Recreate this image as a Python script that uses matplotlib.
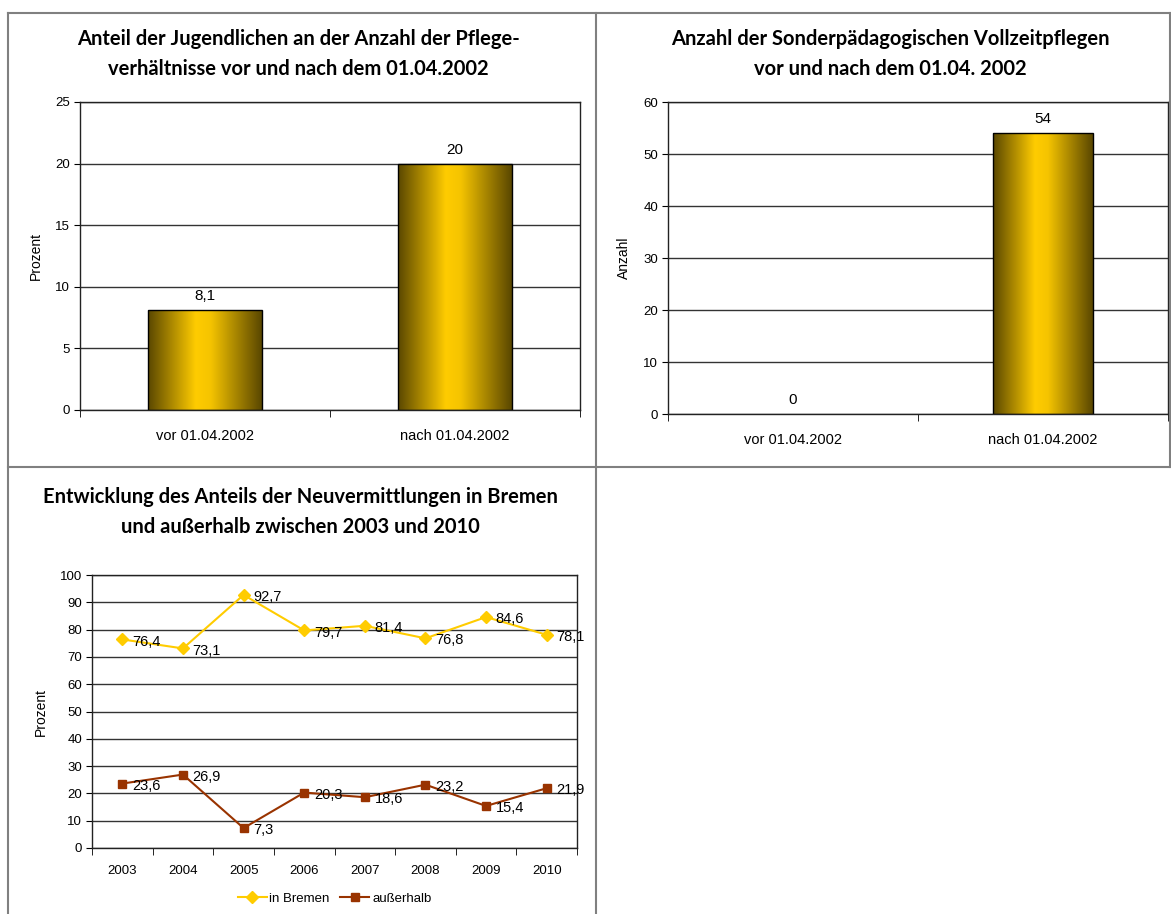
import matplotlib
matplotlib.use('Agg')
import matplotlib.pyplot as plt
import numpy as np
from matplotlib.colors import LinearSegmentedColormap
from matplotlib.lines import Line2D

# data
stichtag_cats = ['vor 01.04.2002', 'nach 01.04.2002']
jugendliche_anteil = [8.1, 20]
sonderpaed_anzahl = [0, 54]

jahre = ['2003', '2004', '2005', '2006', '2007', '2008', '2009', '2010']
in_bremen = [76.4, 73.1, 92.7, 79.7, 81.4, 76.8, 84.6, 78.1]
ausserhalb = [23.6, 26.9, 7.3, 20.3, 18.6, 23.2, 15.4, 21.9]

W, H = 1171, 914
plt.rcParams['font.family'] = ['Liberation Sans', 'DejaVu Sans']
fig = plt.figure(figsize=(W / 100, H / 100), dpi=100)

gold = LinearSegmentedColormap.from_list(
    'gold', [(0, '#5a4700'), (0.42, '#ffcc00'), (0.55, '#f5c400'), (1, '#5a4700')])


def px_axes(left, right, top, bottom):
    return fig.add_axes([left / W, 1 - bottom / H, (right - left) / W, (bottom - top) / H])


def de(v):
    return ('%g' % v).replace('.', ',')


def style_axes(ax):
    for s in ax.spines.values():
        s.set_color('#222222')
        s.set_linewidth(1)
    ax.set_axisbelow(True)
    ax.yaxis.grid(True, color='#333333', linewidth=1)
    ax.tick_params(axis='y', direction='out', length=4, labelsize=9.5, pad=3)
    ax.tick_params(axis='x', which='major', length=0, labelsize=10.5, pad=14)
    ax.tick_params(axis='x', which='minor', direction='out', length=5)


def gradient_bars(ax, bars):
    grad = np.linspace(0, 1, 256).reshape(1, -1)
    for b in bars:
        h = b.get_height()
        if h == 0:
            b.set_visible(False)
            continue
        x, w = b.get_x(), b.get_width()
        im = ax.imshow(grad, cmap=gold, aspect='auto', extent=[x, x + w, 0, h], zorder=1.5)
        im.set_clip_path(b)
        b.set_facecolor('none')
        b.set_zorder(1.6)


def title(x, y, txt):
    fig.text(x / W, 1 - y / H, txt, ha='center', va='center', fontsize=14.5,
             fontweight='bold', family=['Lato', 'DejaVu Sans'], linespacing=1.6)


def bar_chart(ax, values, ymax, ystep, width, ylabel):
    x = np.arange(len(values))
    bars = ax.bar(x, values, width=width, edgecolor='black', linewidth=1)
    gradient_bars(ax, bars)
    for xi, v in zip(x, values):
        ax.annotate(de(v), (xi, v), xytext=(0, 5), textcoords='offset points',
                    ha='center', va='bottom', fontsize=11)
    ax.set_xlim(-0.5, len(values) - 0.5)
    ax.set_ylim(0, ymax)
    ax.set_yticks(np.arange(0, ymax + 1, ystep))
    ax.set_xticks(x, stichtag_cats)
    ax.set_xticks(np.arange(-0.5, len(values)), minor=True)
    style_axes(ax)
    ax.set_ylabel(ylabel, fontsize=10, labelpad=9)


ax1 = px_axes(80, 580, 102, 410)
bar_chart(ax1, jugendliche_anteil, 25, 5, 0.455, 'Prozent')
title(298, 54, 'Anteil der Jugendlichen an der Anzahl der Pflege-\nverhältnisse vor und nach dem 01.04.2002')

ax2 = px_axes(668, 1168, 102, 414)
bar_chart(ax2, sonderpaed_anzahl, 60, 10, 0.4, 'Anzahl')
title(890, 54, 'Anzahl der Sonderpädagogischen Vollzeitpflegen\nvor und nach dem 01.04. 2002')

# line chart
ax3 = px_axes(92, 577, 575, 848)
x = np.arange(len(jahre))
ax3.plot(x, in_bremen, color='#ffcc00', lw=1.5, marker='D', ms=6, label='in Bremen', clip_on=False)
ax3.plot(x, ausserhalb, color='#993300', lw=1.5, marker='s', ms=6, label='außerhalb', clip_on=False)
for series in (in_bremen, ausserhalb):
    for xi, v in zip(x, series):
        ax3.annotate(de(v), (xi, v), xytext=(7, -1.5), textcoords='offset points',
                     ha='left', va='center', fontsize=10.5)
ax3.set_xlim(-0.5, len(jahre) - 0.5)
ax3.set_ylim(0, 100)
ax3.set_yticks(np.arange(0, 101, 10))
ax3.set_xticks(x, jahre)
ax3.set_xticks(np.arange(-0.5, len(jahre)), minor=True)
style_axes(ax3)
ax3.tick_params(axis='x', which='major', labelsize=9.5, pad=12)
ax3.set_ylabel('Prozent', fontsize=10, labelpad=9)
ax3.legend(loc='center', bbox_to_anchor=(0.5, -0.185), ncol=2, frameon=False,
           fontsize=9.5, handlelength=2.2, handletextpad=0.2, columnspacing=0.8)
title(300, 512, 'Entwicklung des Anteils der Neuvermittlungen in Bremen\nund außerhalb zwischen 2003 und 2010')

# table borders
def hline(y, x0, x1):
    fig.add_artist(Line2D([x0 / W, x1 / W], [1 - y / H, 1 - y / H], color='#808080', lw=1.5))


def vline(x0, y0, y1):
    fig.add_artist(Line2D([x0 / W, x0 / W], [1 - y0 / H, 1 - y1 / H], color='#808080', lw=1.5))


hline(13, 8, 1170)
hline(467, 8, 1170)
vline(8, 13, 914)
vline(596, 13, 914)
vline(1170, 13, 467)

fig.savefig('out.png', dpi=100)
